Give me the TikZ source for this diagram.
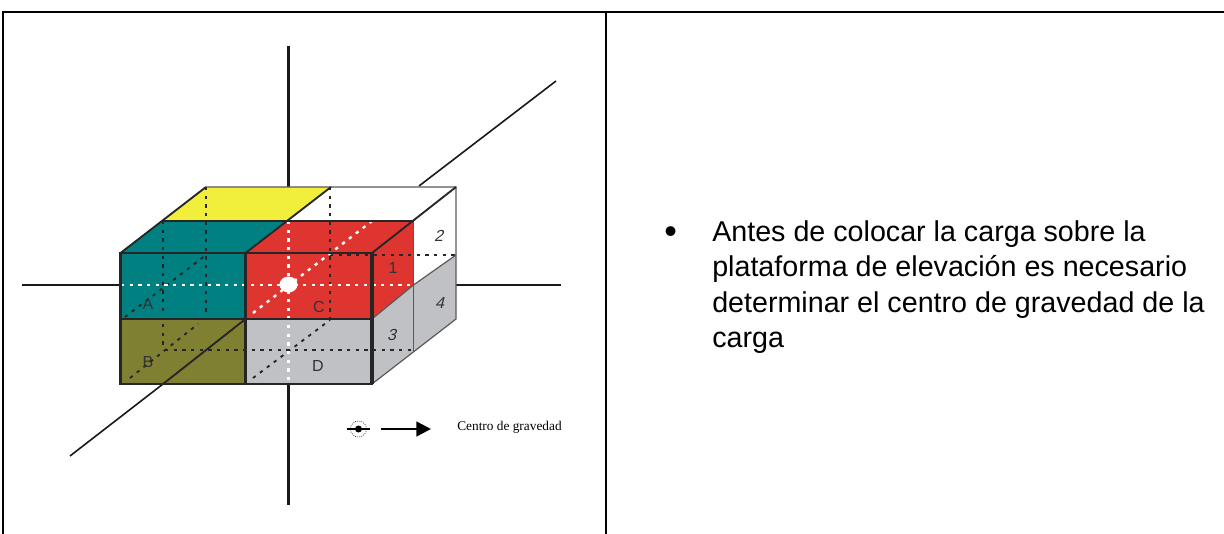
\documentclass[tikz,border=0pt]{standalone}
\usepackage{fontspec}
\setmainfont{Liberation Sans}
\newfontfamily\legendfont{Liberation Serif}
\usetikzlibrary{arrows.meta}
\definecolor{cargateal}{RGB}{0,128,128}
\definecolor{cargared}{RGB}{222,53,48}
\definecolor{cargaolive}{RGB}{128,128,51}
\definecolor{cargagrey}{RGB}{192,193,197}
\definecolor{cargayellow}{RGB}{242,238,60}
\tikzset{
  frameline/.style={line width=1.6pt,black},
  axisline/.style={line width=2pt,black!90},
  edgeline/.style={line width=1.4pt,black!85},
  thinedge/.style={line width=0.9pt,black!65},
  whitedots/.style={line width=1.8pt,white,dash pattern=on 2.5pt off 4pt},
  darkdots/.style={line width=1.4pt,black!85,dash pattern=on 2.5pt off 4pt},
  boxlabel/.style={inner sep=0.75pt,font=\fontsize{12}{14}\selectfont,text=black!80},
  sidelabel/.style={boxlabel,xslant=0.25},
}
\begin{document}
\begin{tikzpicture}[x=0.75pt,y=0.75pt,yscale=-1,xscale=1]
\useasboundingbox (0,0) rectangle (1224,534);

% Frame
\draw [frameline] (3,534) -- (3,12) -- (1224,12);
\draw [frameline] (606,12) -- (606,534);

% Axes behind the load
\draw [axisline] (288.5,46) -- (288.5,221);
\draw [axisline] (288.5,384) -- (288.5,505);
\draw [axisline,line width=1.6pt] (22,285) -- (121,285);
\draw [axisline,line width=1.6pt] (413,285) -- (561,285);
\draw [axisline,line width=1.2pt] (70,456) -- (163,384);
\draw [axisline,line width=1.2pt] (419,186) -- (556,81);

% Top faces
\fill [cargayellow] (163,220.7) -- (206,187) -- (331,187) -- (288.5,220.7) -- cycle;
\fill [cargateal] (120.5,253) -- (163,220.7) -- (288.5,220.7) -- (245.5,253) -- cycle;
\fill [cargared] (245.5,253) -- (288.5,220.7) -- (413.5,220.7) -- (372,253) -- cycle;
% Front faces
\fill [cargateal] (120.5,253) rectangle (245.5,319);
\fill [cargared] (245.5,253) rectangle (372,319);
\fill [cargaolive] (120.5,319) rectangle (245.5,384);
\fill [cargagrey] (245.5,319) rectangle (372,384);
% Side faces
\fill [cargared] (372,253) -- (413.5,220.7) -- (413.5,285) -- (372,319) -- cycle;
\fill [cargagrey] (372,319) -- (413.5,285) -- (413.5,351.7) -- (372,384) -- cycle;
\fill [cargagrey] (413.5,285) -- (456,255) -- (456,319) -- (413.5,351.7) -- cycle;

% Dark dashes inside
\draw [darkdots] (163,221) -- (163,313);
\draw [darkdots] (206,187) -- (206,313);
\draw [darkdots] (163,324) -- (163,350);
\draw [darkdots] (330,187) -- (330,320);
\draw [darkdots] (125,317) -- (206,255);
\draw [darkdots] (130,378) -- (198,324);
\draw [darkdots] (253,378) -- (330,320);
\draw [darkdots] (165,350) -- (413,350);
\draw [darkdots] (330,255) -- (456,255);

% White dots through the centre
\draw [whitedots] (121,285) -- (413,285);
\draw [whitedots] (288.5,221) -- (288.5,384);
\draw [whitedots] (253,313) -- (372,221);
\fill [white] (288.5,284.5) ellipse (9 and 8);

% Box edges
\draw [thinedge] (206,187) -- (456,187) -- (456,319) -- (372,384);
\draw [thinedge] (413.5,220.7) -- (413.5,351.7);
\draw [thinedge] (413.5,285) -- (456,255);
\draw [thinedge] (372,319) -- (413.5,285);
\draw [edgeline] (120.5,253) -- (206,187);
\draw [edgeline] (245.5,253) -- (331,187);
\draw [edgeline] (372,253) -- (456,187);
\draw [edgeline] (163,220.7) -- (413.5,220.7);
\draw [edgeline,line width=2pt] (120.5,253) rectangle (372,384);
\draw [edgeline,line width=1.7pt] (120.5,319) -- (372,319);
\draw [edgeline,line width=1.7pt] (245.5,253) -- (245.5,384);
\draw [edgeline,line width=3pt] (372,253) -- (372,384);
\draw [edgeline] (245.5,319) -- (163,384);

% Labels
\node [boxlabel] (lblA) at (148,304) {A};
\node [boxlabel] (lblB) at (148,362) {B};
\node [boxlabel] (lblC) at (319,307) {C};
\node [boxlabel] (lblD) at (318,366) {D};
\node [boxlabel] (lblone) at (393,268) {1};
\node [sidelabel] (lbltwo) at (440,236) {2};
\node [sidelabel] (lblthree) at (393,335) {3};
\node [sidelabel] (lblfour) at (441,303) {4};

% Legend
\node [circle,draw=black!80,densely dotted,line width=0.6pt,minimum size=12pt,inner sep=0pt] (legsym) at (358.5,429) {};
\fill [black] (legsym.center) circle (3.5);
\draw [line width=1.5pt] ([xshift=-2.5pt]legsym.west) -- ([xshift=2.5pt]legsym.east);
\coordinate (legfrom) at (381,429);
\coordinate (legto) at (431,429);
\draw [line width=1.8pt,-{Triangle[length=11pt,width=11pt]}] (legfrom) -- (legto);
\node [anchor=west,inner sep=0.75pt,font=\legendfont\fontsize{10}{12}\selectfont] (legtext) at (456,427) {Centro de gravedad};

% Text
\node [inner sep=0pt,font=\fontsize{27}{27}\selectfont] (bullet) at (670.7,235) {•};
\node [anchor=north west,inner sep=0pt,align=left,font=\fontsize{21.5}{26.5}\selectfont] (bodytext) at (712,220.5) {Antes de colocar la carga sobre la\\plataforma de elevación es necesario\\determinar el centro de gravedad de la\\carga};

\end{tikzpicture}
\end{document}
